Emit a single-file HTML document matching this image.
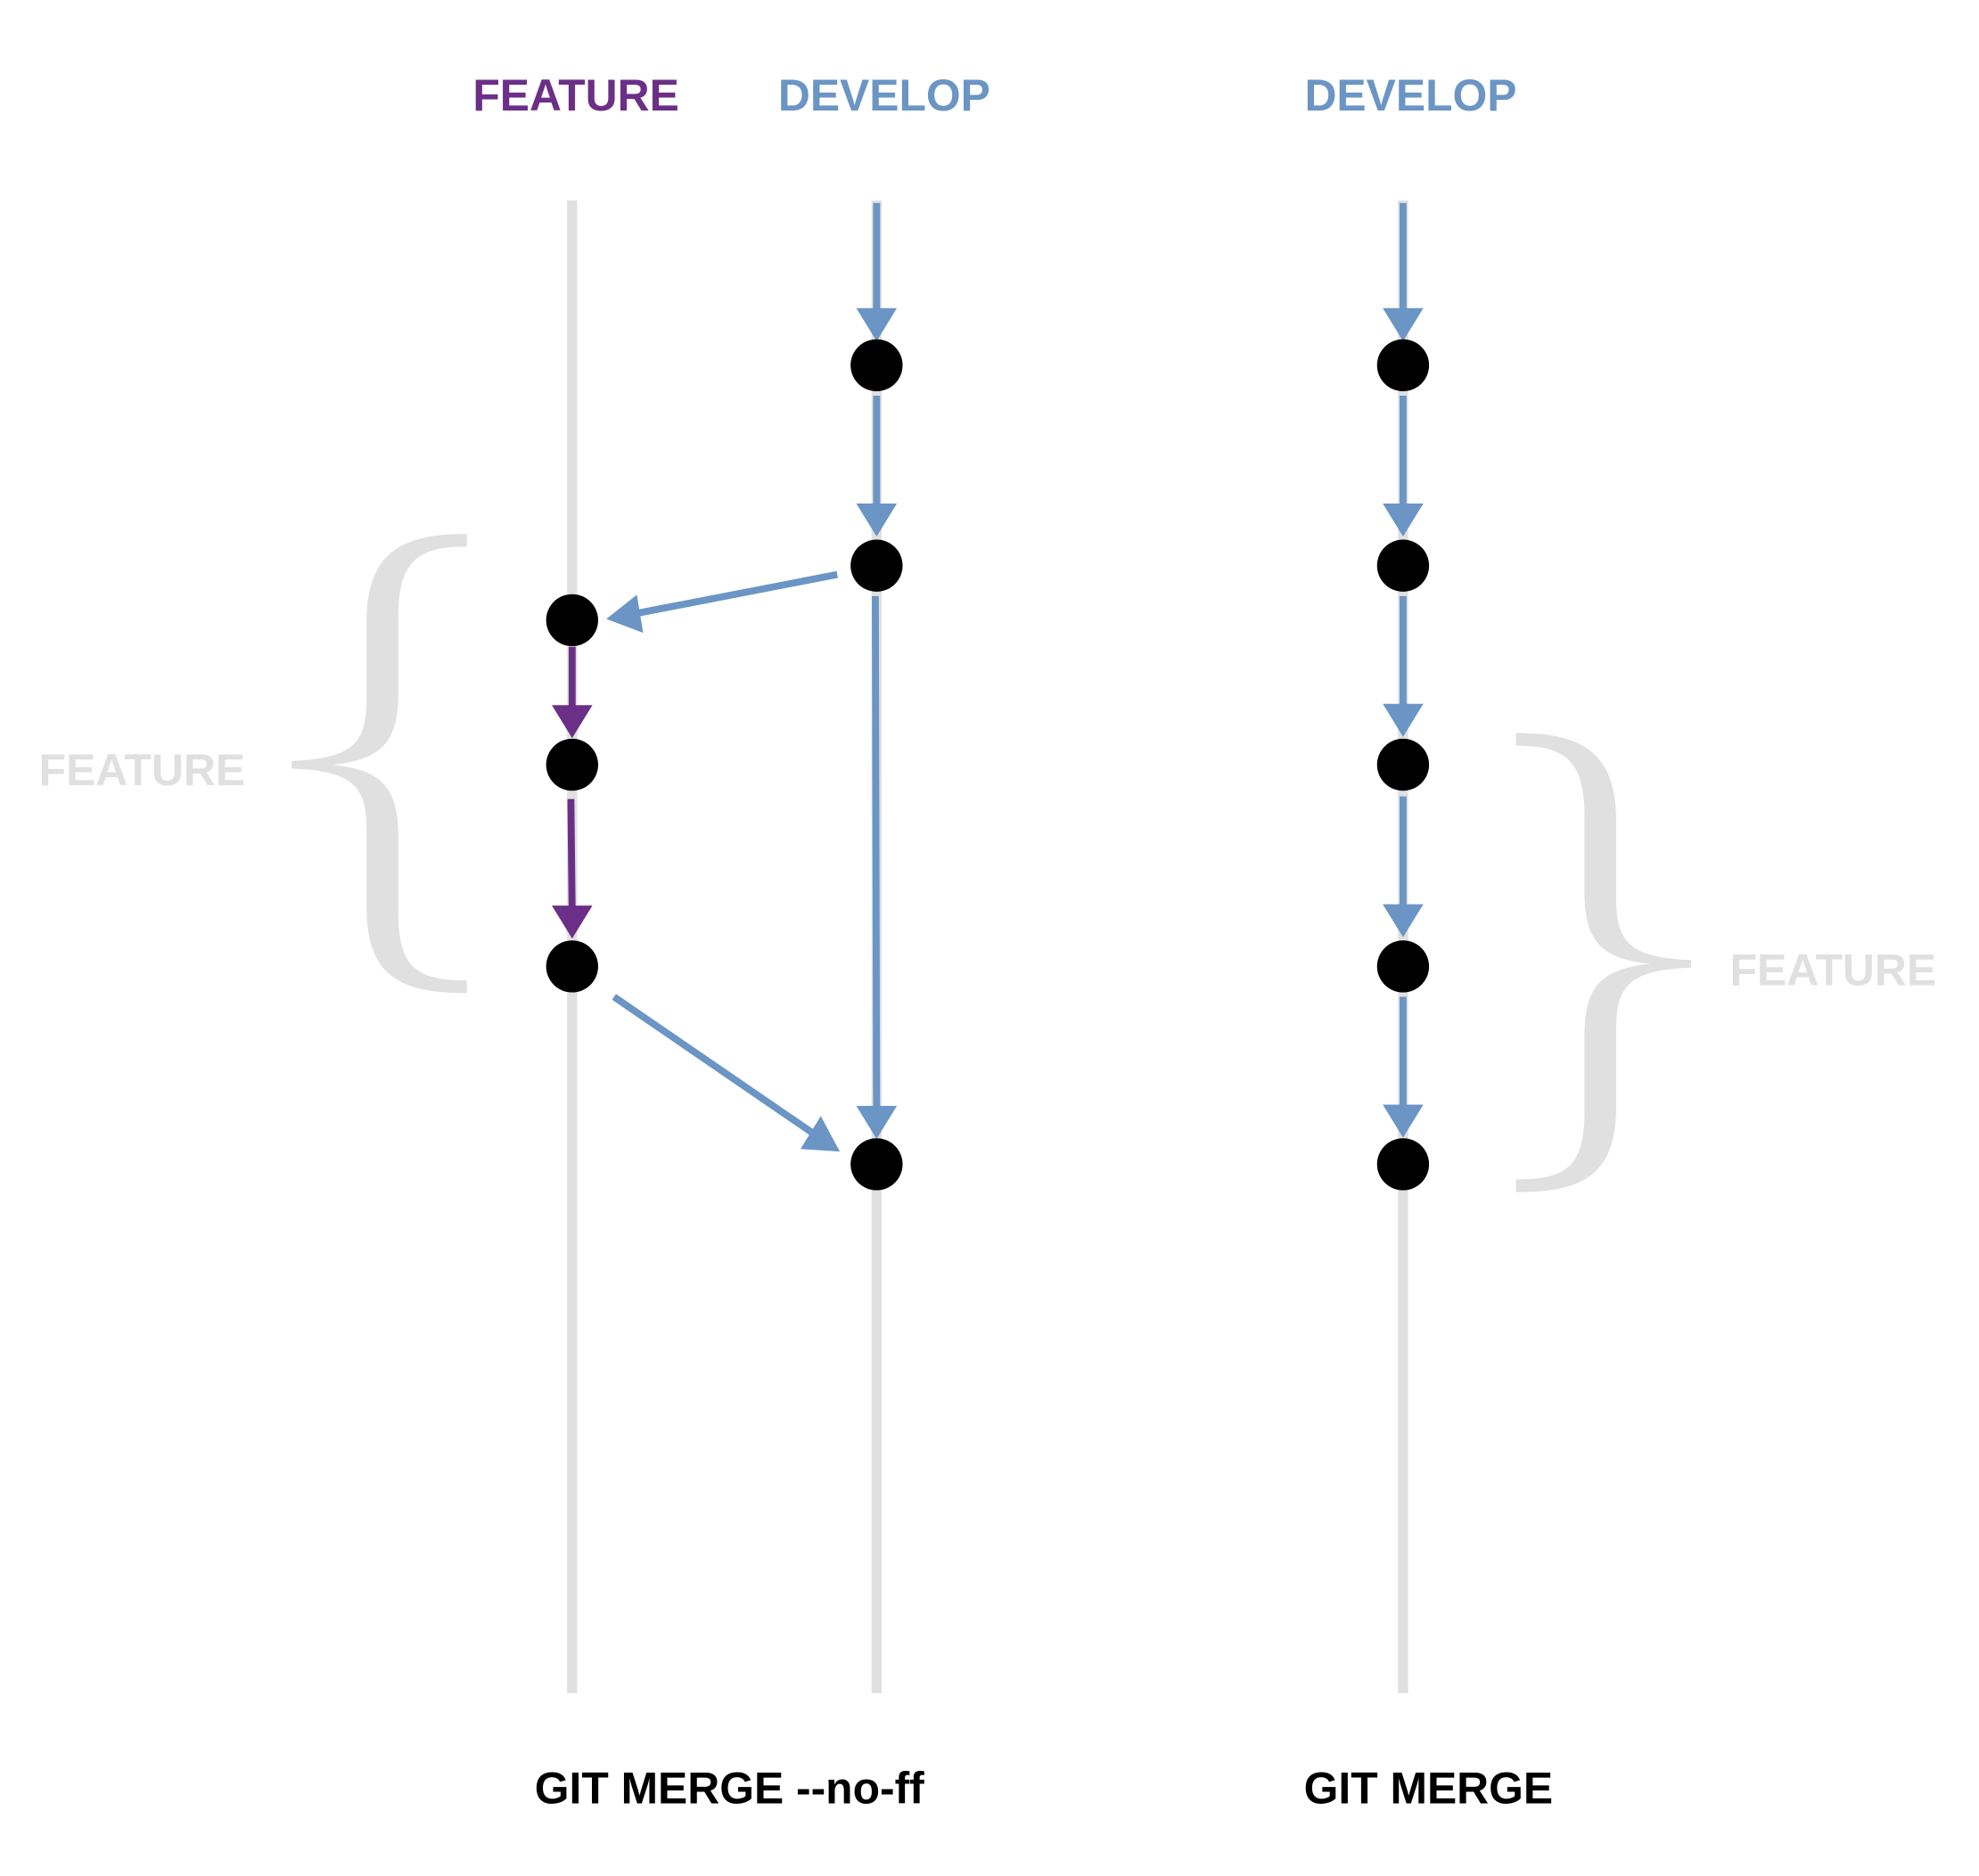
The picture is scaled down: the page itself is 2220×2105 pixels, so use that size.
<!DOCTYPE html>
<html><head><meta charset="utf-8"><style>
html,body{margin:0;padding:0;background:#fff;}
svg{display:block;}
text{font-family:"Liberation Sans",Arial,sans-serif;font-weight:bold;}
</style></head><body>
<svg width="2220" height="2105" viewBox="0 0 1560 1479.2" xmlns="http://www.w3.org/2000/svg">
<rect width="1560" height="1480" fill="#fff"/>
<!-- headings -->
<text x="454" y="87" font-size="35" fill="#6b2f87" text-anchor="middle">FEATURE</text>
<text x="697" y="87" font-size="35" fill="#6a95c5" text-anchor="middle">DEVELOP</text>
<text x="1112" y="87" font-size="35" fill="#6a95c5" text-anchor="middle">DEVELOP</text>
<!-- gray lanes -->
<g stroke="#e0e0e0" stroke-width="8">
<line x1="451" y1="158" x2="451" y2="1335"/>
<line x1="691" y1="158" x2="691" y2="1335"/>
<line x1="1106" y1="158" x2="1106" y2="1335"/>
</g>
<!-- braces -->
<g fill="#e0e0e0">
<path d="M368,421 C320,421 289,433 289,490 L289,550 C289,585 280,598 230,600 L230,606 C280,608 289,621 289,656 L289,716 C289,773 320,783 368,783 L368,773 C330,773 314,764 314,720 L314,660 C314,620 300,607 262,603 C300,599 314,586 314,546 L314,486 C314,442 330,431 368,431 Z"/>
<path transform="translate(1563,157) scale(-1,1)" d="M368,421 C320,421 289,433 289,490 L289,550 C289,585 280,598 230,600 L230,606 C280,608 289,621 289,656 L289,716 C289,773 320,783 368,783 L368,773 C330,773 314,764 314,720 L314,660 C314,620 300,607 262,603 C300,599 314,586 314,546 L314,486 C314,442 330,431 368,431 Z"/>
</g>
<text x="112" y="619" font-size="35" fill="#e0e0e0" text-anchor="middle">FEATURE</text>
<text x="1445" y="777" font-size="35" fill="#e0e0e0" text-anchor="middle">FEATURE</text>
<!-- blue vertical lines -->
<g stroke="#6a95c5" stroke-width="5.5">
<line x1="691" y1="160" x2="691" y2="250"/>
<line x1="691" y1="312" x2="691" y2="405"/>
<line x1="690" y1="470" x2="691" y2="880"/>
<line x1="1106" y1="160" x2="1106" y2="250"/>
<line x1="1106" y1="312" x2="1106" y2="405"/>
<line x1="1106" y1="470" x2="1106" y2="562"/>
<line x1="1106" y1="628" x2="1106" y2="720"/>
<line x1="1106" y1="786" x2="1106" y2="878"/>
<line x1="660" y1="453" x2="500" y2="484"/>
<line x1="484" y1="786" x2="643" y2="895"/>
</g>
<g stroke="#6b2f87" stroke-width="5.5">
<line x1="451" y1="510" x2="451" y2="560"/>
<line x1="450" y1="630" x2="451" y2="720"/>
</g>
<!-- arrowheads -->
<g fill="#6a95c5">
<polygon points="675,243 707,243 691,269"/>
<polygon points="675,397 707,397 691,423"/>
<polygon points="675,872 707,872 691,898"/>
<polygon points="1090,243 1122,243 1106,269"/>
<polygon points="1090,397 1122,397 1106,423"/>
<polygon points="1090,555 1122,555 1106,581"/>
<polygon points="1090,713 1122,713 1106,739"/>
<polygon points="1090,871 1122,871 1106,897"/>
<polygon points="478,488 502,469 507,499"/>
<polygon points="662,908 631,906 647,880"/>
</g>
<g fill="#6b2f87">
<polygon points="435,556 467,556 451,582"/>
<polygon points="435,714 467,714 451,740"/>
</g>
<!-- nodes -->
<g fill="#000">
<circle cx="691" cy="288" r="20.5"/>
<circle cx="691" cy="446" r="20.5"/>
<circle cx="691" cy="918" r="20.5"/>
<circle cx="451" cy="489" r="20.5"/>
<circle cx="451" cy="603" r="20.5"/>
<circle cx="451" cy="762" r="20.5"/>
<circle cx="1106" cy="288" r="20.5"/>
<circle cx="1106" cy="446" r="20.5"/>
<circle cx="1106" cy="603" r="20.5"/>
<circle cx="1106" cy="762" r="20.5"/>
<circle cx="1106" cy="918" r="20.5"/>
</g>
<!-- bottom labels -->
<text x="575" y="1422" font-size="35" fill="#000" text-anchor="middle">GIT MERGE --no-ff</text>
<text x="1126" y="1422" font-size="35" fill="#000" text-anchor="middle">GIT MERGE</text>
</svg>
</body></html>
